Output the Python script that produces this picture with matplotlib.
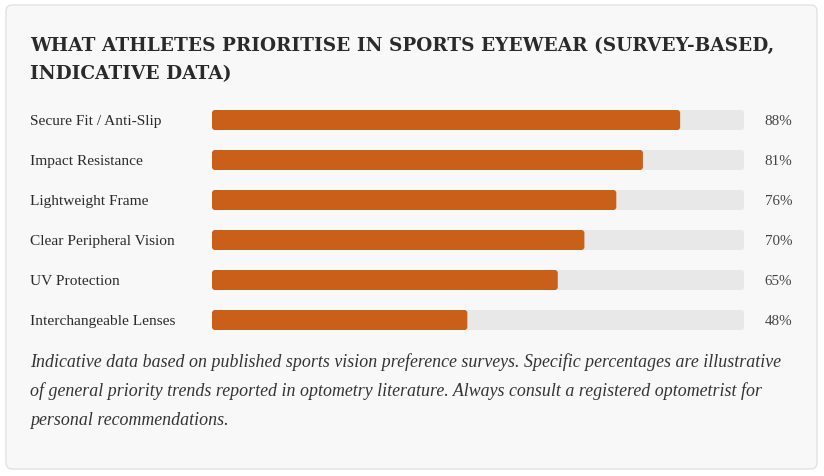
import matplotlib
matplotlib.use("Agg")
import matplotlib.pyplot as plt
from matplotlib.patches import FancyBboxPatch
from matplotlib import transforms

categories = ["Secure Fit / Anti-Slip", "Impact Resistance", "Lightweight Frame",
              "Clear Peripheral Vision", "UV Protection", "Interchangeable Lenses"]
values = [88, 81, 76, 70, 65, 48]
title_lines = ["WHAT ATHLETES PRIORITISE IN SPORTS EYEWEAR (SURVEY-BASED,",
               "INDICATIVE DATA)"]
note_lines = ["Indicative data based on published sports vision preference surveys. Specific percentages are illustrative",
              "of general priority trends reported in optometry literature. Always consult a registered optometrist for",
              "personal recommendations."]

W, H = 824, 477
FONT = "Liberation Serif"
BAR = "#c9601a"
TRACK = "#e8e8e8"
TEXT = "#2a2a2a"

fig = plt.figure(figsize=(W / 100, H / 100), dpi=100)
fig.patch.set_facecolor("white")

def fx(px):
    return px / W

def fy(py):
    return 1 - py / H

card = FancyBboxPatch((fx(6), fy(470)), fx(811), 464 / H,
                      boxstyle="round,pad=0,rounding_size=0.008",
                      transform=fig.transFigure, facecolor="#f8f8f8",
                      edgecolor="#e2e2e2", linewidth=1.0, mutation_aspect=W / H,
                      zorder=-10)
fig.patches.append(card)

ax = fig.add_axes([fx(212), fy(341), fx(532), 240 / H], zorder=5)
ax.set_xlim(0, 100)
ax.set_ylim(len(categories) - 0.5, -0.5)
ax.axis("off")

r_x = 3 * 100 / 532
asp = (3 / 40) / r_x
for i, v in enumerate(values):
    ax.add_patch(FancyBboxPatch((0, i - 0.25), 100, 0.5,
                                boxstyle=f"round,pad=0,rounding_size={r_x}",
                                mutation_aspect=asp, facecolor=TRACK, edgecolor="none"))
    ax.add_patch(FancyBboxPatch((0, i - 0.25), v, 0.5,
                                boxstyle=f"round,pad=0,rounding_size={r_x}",
                                mutation_aspect=asp, facecolor=BAR, edgecolor="none"))

blend = transforms.blended_transform_factory(fig.transFigure, ax.transData)
for i, (c, v) in enumerate(zip(categories, values)):
    ax.text(fx(30), i + 0.02, c, transform=blend, ha="left", va="center",
            fontsize=11.1, family=FONT, color=TEXT, clip_on=False)
    ax.text(fx(792), i + 0.02, f"{v}%", transform=blend, ha="right", va="center",
            fontsize=10.8, family=FONT, color="#444444", clip_on=False)

for k, t in enumerate(title_lines):
    fig.text(fx(30), fy(46 + 28 * k), t, ha="left", va="center",
             fontsize=13.3, family="DejaVu Serif", weight="bold", color=TEXT)

for k, t in enumerate(note_lines):
    fig.text(fx(30), fy(362 + 29.5 * k), t, ha="left", va="center",
             fontsize=12.85, family=FONT, style="italic", color="#333333")

fig.savefig("out.png", dpi=100, facecolor="white")
